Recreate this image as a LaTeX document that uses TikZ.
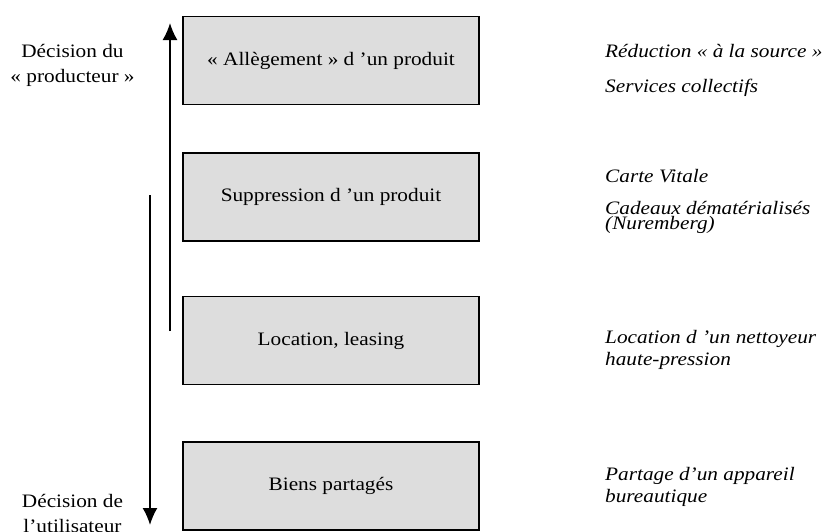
\documentclass[tikz,border=0pt]{standalone}
\usepackage{fontspec}
\setmainfont{Liberation Serif}[FakeStretch=1.12, ItalicFont={Liberation Serif Italic}, BoldFont={Liberation Serif Bold}]
\usetikzlibrary{arrows.meta}
\definecolor{gris}{HTML}{DDDDDD}
\tikzset{
    boite/.style={draw, line width=1.8pt, fill=gris, minimum width=296pt, minimum height=88pt, inner sep=0pt, font=\fontsize{19}{22}\selectfont},
    exemple/.style={anchor=base west, align=left, inner sep=0pt, font=\itshape\fontsize{19}{22}\selectfont},
    decision/.style={anchor=base, align=center, inner sep=0pt, font=\fontsize{19}{25}\selectfont}
}
\begin{document}
\begin{tikzpicture}[x=1pt, y=-1pt, >={Latex[width=15pt,length=17pt]}]
\useasboundingbox (0,0) rectangle (823,531);

\foreach \y/\t [count=\i] in {60.5/{« Allègement » d ’un produit}, 197/{Suppression d ’un produit}, 340.5/{Location, leasing}, 486/{Biens partagés}}
{
    \node[boite] (b\i) at (331,\y) {\t};
}

\coordinate (prodBas) at (170,331);
\coordinate (prodHaut) at (170,23);
\coordinate (utilHaut) at (150,195);
\coordinate (utilBas) at (150,525);
\draw[->, line width=1.8pt] (prodBas) -- (prodHaut);
\draw[->, line width=1.8pt] (utilHaut) -- (utilBas);

% base = last line
\node[decision] (prod) at (72.5,82) {Décision du\\« producteur »};
\node[decision] (util) at (72.5,532) {Décision de\\l’utilisateur};

\node[exemple] (reduc) at (605,57) {Réduction « à la source »};
\node[exemple] (serv) at (605,92) {Services collectifs};
\node[exemple] (carte) at (605,182) {Carte Vitale};
\node[exemple, font=\itshape\fontsize{19}{15}\selectfont] (cadeaux) at (605,229) {Cadeaux dématérialisés\\(Nuremberg)};
\node[exemple] (loc) at (605,365) {Location d ’un nettoyeur\\haute-pression};
\node[exemple] (partage) at (605,502) {Partage d’un appareil\\bureautique};

\end{tikzpicture}
\end{document}
